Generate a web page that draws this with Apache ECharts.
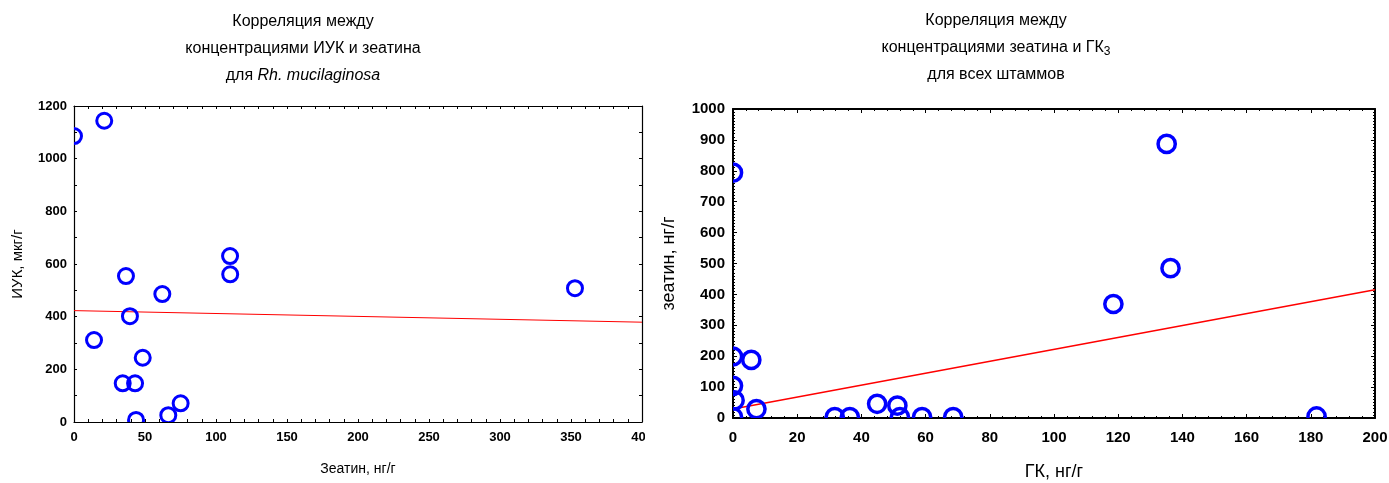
<!DOCTYPE html>
<html>
<head>
<meta charset="utf-8">
<script src="https://cdn.jsdelivr.net/npm/echarts@6/dist/echarts.min.js"></script>
<style>
html,body{margin:0;padding:0;background:#fff;}
#wrap{position:relative;width:1389px;height:483px;overflow:hidden;}
#left{position:absolute;left:0;top:0;width:645px;height:483px;}
#right{position:absolute;left:645px;top:0;width:744px;height:483px;}
</style>
</head>
<body>
<div id="wrap"><div id="left"></div><div id="right"></div></div>
<script>
// ---- Left chart data: зеатин (x) vs ИУК (y), Rh. mucilaginosa
const leftX = [0, 21.3, 36.6, 62.2, 109.9, 110, 39.4, 14.1, 48.4, 34.3, 43, 75.1, 66.4, 43.7, 352.8];
const leftY = [1086, 1144, 554, 486, 630, 561, 402, 311, 244, 147, 147, 71, 26, 8, 508];
const leftFitX = [0, 400];
const leftFitY = [423, 379];

// ---- Right chart data: ГК (x) vs зеатин (y), all strains
const rightX = [135.1, 136.3, 118.5, 181.8, 0, 0, 5.7, 0, 0.5, 7.3, 0, 31.7, 36.4, 44.9, 51.2, 52, 58.9, 68.6];
const rightY = [887, 485, 369, 5, 794, 199, 188, 104, 57, 29, 3, 3, 3, 46, 40, 3, 3, 3];
const rightFitX = [0, 200];
const rightFitY = [29, 415];

const SANS = '"Liberation Sans", Arial, sans-serif';

function pairs(xs, ys){ return xs.map((x,i)=>[x, ys[i]]); }

function ringSeries(data, r, lw){
  return {
    type: 'custom',
    clip: true,
    xAxisIndex: 0, yAxisIndex: 0,
    data: data,
    renderItem: function(params, api){
      const p = api.coord([api.value(0), api.value(1)]);
      return {
        type: 'circle',
        shape: {cx: p[0], cy: p[1], r: r},
        style: {fill: 'none', stroke: '#0000ff', lineWidth: lw}
      };
    },
    z: 3
  };
}

function buildOption(cfg){
  const axisLine = {show: true, onZero: false, lineStyle: {color: '#000', width: cfg.axisW}};
  const tick = {show: true, inside: true, length: cfg.tickLen, lineStyle: {color: '#000', width: 1}};
  const minor = {show: true, splitNumber: cfg.minorX, length: cfg.minorLen, lineStyle: {color: '#000', width: 1}};
  const minorY = {show: true, splitNumber: cfg.minorY, length: cfg.minorLen, lineStyle: {color: '#000', width: 1}};
  const lbl = {fontFamily: SANS, fontWeight: 'bold', color: '#000', formatter: v => String(v)};
  return {
    animation: false,
    backgroundColor: '#fff',
    graphic: [{
      type: 'text', x: cfg.titleX, y: cfg.titleY,
      style: {
        text: cfg.title, align: 'center', verticalAlign: 'top',
        font: cfg.titleSize + 'px ' + SANS, lineHeight: 27, fill: '#000',
        rich: cfg.rich
      }
    }],
    grid: {left: cfg.grid[0], right: cfg.grid[1], top: cfg.grid[2], bottom: cfg.grid[3],
           containLabel: false, outerBoundsMode: 'none'},
    xAxis: [{
      type: 'value', min: cfg.xMin, max: cfg.xMax, interval: cfg.xInt, position: 'bottom',
      name: cfg.xName, nameLocation: 'middle', nameGap: cfg.xNameGap,
      nameTextStyle: {fontFamily: SANS, fontSize: cfg.xNameSize, color: '#000'},
      axisLine: axisLine, axisTick: tick, minorTick: minor, splitLine: {show: false},
      axisLabel: Object.assign({fontSize: cfg.xLblSize, margin: cfg.xLblMargin, showMaxLabel: true}, lbl)
    }, {
      type: 'value', min: cfg.xMin, max: cfg.xMax, interval: cfg.xInt, position: 'top',
      axisLine: axisLine, axisTick: tick, minorTick: minor, splitLine: {show: false},
      axisLabel: {show: false}
    }],
    yAxis: [{
      type: 'value', min: cfg.yMin, max: cfg.yMax, interval: cfg.yInt, position: 'left',
      name: cfg.yName, nameLocation: 'middle', nameGap: cfg.yNameGap, nameRotate: 90,
      nameTextStyle: {fontFamily: SANS, fontSize: cfg.yNameSize, color: '#000'},
      axisLine: axisLine, axisTick: tick, minorTick: minorY, splitLine: {show: false},
      axisLabel: Object.assign({fontSize: cfg.yLblSize, margin: cfg.yLblMargin}, lbl)
    }, {
      type: 'value', min: cfg.yMin, max: cfg.yMax, interval: cfg.yInt, position: 'right',
      axisLine: axisLine, axisTick: tick, minorTick: minorY, splitLine: {show: false},
      axisLabel: {show: false}
    }],
    series: [
      {
        type: 'line', data: pairs(cfg.fitX, cfg.fitY), symbol: 'none', clip: true,
        lineStyle: {color: '#ff0000', width: cfg.fitW}, z: 2, silent: true
      },
      ringSeries(pairs(cfg.px, cfg.py), cfg.r, cfg.ringW)
    ]
  };
}

const leftChart = echarts.init(document.getElementById('left'), null, {renderer: 'canvas'});
leftChart.setOption(buildOption({
  title: 'Корреляция между\nконцентрациями ИУК и зеатина\nдля {it|Rh. mucilaginosa}',
  rich: {it: {font: 'italic 16px ' + SANS}},
  titleX: 303, titleY: 8, titleSize: 16,
  grid: [74, 3, 106, 61],
  xMin: 0, xMax: 400, xInt: 50, minorX: 5,
  yMin: 0, yMax: 1200, yInt: 200, minorY: 2,
  xName: 'Зеатин, нг/г', xNameGap: 40, xNameSize: 14,
  yName: 'ИУК, мкг/г', yNameGap: 49, yNameSize: 15,
  xLblSize: 13, yLblSize: 13, xLblMargin: 9, yLblMargin: 7,
  axisW: 1.2, tickLen: 3, minorLen: 3,
  fitX: leftFitX, fitY: leftFitY, fitW: 1,
  px: leftX, py: leftY, r: 7.5, ringW: 3
}));

const rightChart = echarts.init(document.getElementById('right'), null, {renderer: 'canvas'});
rightChart.setOption(buildOption({
  title: 'Корреляция между\nконцентрациями зеатина и ГК{sub|3}\nдля всех штаммов',
  rich: {sub: {font: '12px ' + SANS, padding: [9, 0, 0, 0]}},
  titleX: 351, titleY: 7, titleSize: 16,
  grid: [88, 14, 109, 65],
  xMin: 0, xMax: 200, xInt: 20, minorX: 5,
  yMin: 0, yMax: 1000, yInt: 100, minorY: 10,
  xName: 'ГК, нг/г', xNameGap: 45, xNameSize: 18,
  yName: 'зеатин, нг/г', yNameGap: 55, yNameSize: 18,
  xLblSize: 15, yLblSize: 15, xLblMargin: 12, yLblMargin: 8,
  axisW: 2, tickLen: 4, minorLen: 2,
  fitX: rightFitX, fitY: rightFitY, fitW: 1.5,
  px: rightX, py: rightY, r: 8.6, ringW: 3.5
}));
</script>
</body>
</html>
